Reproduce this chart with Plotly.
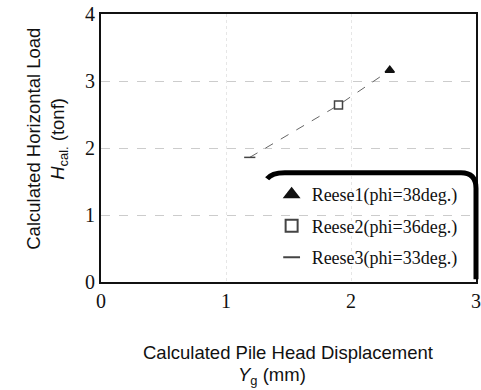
import plotly.graph_objects as go

# Calculated pile-head response for three Reese p-y assumptions
series_names = ["Reese1(phi=38deg.)", "Reese2(phi=36deg.)", "Reese3(phi=33deg.)"]
disp_mm = [2.31, 1.90, 1.19]      # Yg (mm)
load_tonf = [3.16, 2.64, 1.86]    # Hcal. (tonf)
marker_symbols = ["triangle-up", "square-open", "line-ew-open"]
marker_colors = ["#111111", "#444444", "#444444"]

x_ticks = [0, 1, 2, 3]
y_ticks = [0, 1, 2, 3, 4]

fig = go.Figure()

# connecting curve through the computed points (faint in print)
fig.add_trace(go.Scatter(
    x=disp_mm[::-1], y=load_tonf[::-1], mode="lines",
    line=dict(color="#666666", width=1, dash="dash"),
    showlegend=False, hoverinfo="skip"))

for i, name in enumerate(series_names):
    fig.add_trace(go.Scatter(
        x=[disp_mm[i]], y=[load_tonf[i]], mode="markers", name=name,
        legendgroup=name,
        marker=dict(symbol=marker_symbols[i], size=8,
                    color=marker_colors[i],
                    line=dict(color=marker_colors[i], width=1.5)),
    ))

serif = "Liberation Serif, Times New Roman, serif"
sans = "Liberation Sans, Arial, sans-serif"
title_font = dict(family=sans, size=18.5, color="#111111")

fig.update_layout(
    width=481, height=390,
    margin=dict(l=101, r=5, t=14, b=108),
    paper_bgcolor="white", plot_bgcolor="white",
    showlegend=True,
    legend=dict(x=0.455, y=0.395, xanchor="left", yanchor="top",
                bgcolor="rgba(0,0,0,0)", borderwidth=0,
                font=dict(family=serif, size=18, color="#111111"),
                traceorder="grouped", tracegroupgap=5,
                itemsizing="constant"),
    xaxis=dict(range=[0, 3], tickvals=x_ticks, ticktext=[str(v) for v in x_ticks],
               showline=True, linecolor="#111111", linewidth=2, mirror=True,
               ticks="", showgrid=True, gridcolor="#e6e6e6", griddash="dot",
               dtick=0.5, tick0=0, zeroline=False, automargin=False,
               tickfont=dict(family=serif, size=20, color="#111111")),
    yaxis=dict(range=[0, 4], tickvals=y_ticks, ticktext=[str(v) for v in y_ticks],
               showline=True, linecolor="#111111", linewidth=2, mirror=True,
               ticks="", showgrid=True, gridcolor="#cccccc", griddash="dash",
               zeroline=False, automargin=False,
               tickfont=dict(family=serif, size=20, color="#111111")),
)

# axis titles (two lines each)
fig.add_annotation(text="Calculated Pile Head Displacement", xref="paper", yref="paper",
                   x=0.498, y=-0.262, xanchor="center", yanchor="middle",
                   showarrow=False, font=title_font)
fig.add_annotation(text="<i>Y</i><sub>g</sub> (mm)", xref="paper", yref="paper",
                   x=0.456, y=-0.352, xanchor="center", yanchor="middle",
                   showarrow=False, font=title_font)
fig.add_annotation(text="Calculated Horizontal Load", xref="paper", yref="paper",
                   x=-0.181, y=0.535, xanchor="center", yanchor="middle", textangle=-90,
                   showarrow=False, font=title_font)
fig.add_annotation(text="<i>H</i><sub>cal.</sub> (tonf)", xref="paper", yref="paper",
                   x=-0.114, y=0.535, xanchor="center", yanchor="middle", textangle=-90,
                   showarrow=False, font=title_font)

# rounded frame around the legend (heavy top and right edges)
fig.add_shape(type="path", xref="paper", yref="paper",
              path="M 0.443,0.385 Q 0.455,0.408 0.49,0.408 L 0.96,0.408 Q 1.0,0.408 1.0,0.35 L 1.0,0.01",
              line=dict(color="#000000", width=5))

fig.write_html("out.html")
